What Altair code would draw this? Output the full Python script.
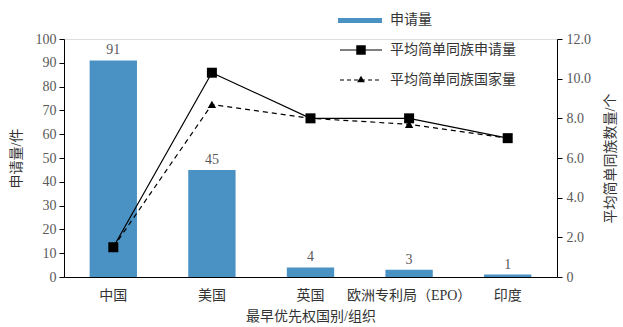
import altair as alt
import pandas as pd

countries = ["中国", "美国", "英国", "欧洲专利局（EPO）", "印度"]
applications = [91, 45, 4, 3, 1]
avg_family_apps = [1.5, 10.3, 8.0, 8.0, 7.0]
avg_family_countries = [1.5, 8.7, 8.0, 7.7, 7.0]
legend_labels = ["申请量", "平均简单同族申请量", "平均简单同族国家量"]
left_ticks = list(range(0, 101, 10))
right_ticks = [0, 2, 4, 6, 8, 10, 12]

FONT = "Liberation Serif, Noto Sans CJK SC"
BAR = "#4a91c4"
GRAY = "#595959"
FS = 14

df = pd.DataFrame({
    "country": countries,
    "apps": applications,
    "fam_apps": avg_family_apps,
    "fam_countries": avg_family_countries,
})

xaxis = alt.Axis(labelAngle=0, ticks=False, domainColor="black",
                 labelColor="#333333", labelFont=FONT, labelFontSize=FS,
                 labelPadding=11, labelOverlap=False,
                 titleFont=FONT, titleFontSize=FS,
                 titleFontWeight="normal", titleColor="#333333",
                 titlePadding=7)
xenc = alt.X("country:N", sort=countries, title="最早优先权国别/组织",
             scale=alt.Scale(paddingInner=0.52, paddingOuter=0.26), axis=xaxis)

laxis = alt.Axis(values=left_ticks, tickCount=11, grid=False, domainColor="black",
                 tickColor="black", tickSize=5, labelColor=GRAY,
                 labelFont=FONT, labelFontSize=FS, labelPadding=3,
                 labelOverlap=False, labelFlush=False,
                 titleFont=FONT, titleFontSize=FS, titleFontWeight="normal",
                 titleColor="#333333", titlePadding=12)
raxis = alt.Axis(orient="right", values=right_ticks, tickCount=7, grid=False,
                 domainColor="black", tickColor="black", tickSize=5,
                 labelColor=GRAY, labelFont=FONT, labelFontSize=FS,
                 labelPadding=4, labelOverlap=False, labelFlush=False,
                 labelExpr="datum.value == 0 ? '0' : format(datum.value, '.1f')",
                 titleFont=FONT, titleFontSize=FS,
                 titleFontWeight="normal", titleColor="#333333",
                 titleAngle=270, titlePadding=27)

base = alt.Chart(df)
lscale = alt.Scale(domain=[0, 100], nice=False)
rscale = alt.Scale(domain=[0, 12], nice=False)

bars = base.mark_bar(color=BAR).encode(
    x=xenc,
    y=alt.Y("apps:Q", title="申请量/件", scale=lscale, axis=laxis),
)
bar_text = base.mark_text(dy=-10, font=FONT, fontSize=FS, color=GRAY).encode(
    x=alt.X("country:N", sort=countries),
    y=alt.Y("apps:Q", title="申请量/件", scale=lscale, axis=laxis),
    text=alt.Text("apps:Q"),
)

one = alt.Data(values=[{"a": 0}])
leg_swatch = alt.Chart(one).mark_rect(color=BAR, clip=False).encode(
    x=alt.value(274), x2=alt.value(318), y=alt.value(-21), y2=alt.value(-16))
leg_rule1 = alt.Chart(one).mark_rule(color="black", strokeWidth=1.2).encode(
    x=alt.value(276), x2=alt.value(318), y=alt.value(11))
leg_pt1 = alt.Chart(one).mark_point(shape="square", filled=True, color="black",
                                    size=90, opacity=1).encode(
    x=alt.value(297), y=alt.value(11))
leg_rule2 = alt.Chart(one).mark_rule(color="black", strokeWidth=1.2,
                                     strokeDash=[4, 3]).encode(
    x=alt.value(276), x2=alt.value(318), y=alt.value(41))
leg_pt2 = alt.Chart(one).mark_point(shape="triangle-up", filled=True, color="black",
                                    size=60, opacity=1).encode(
    x=alt.value(297), y=alt.value(40))
leg_texts = [
    alt.Chart(one).mark_text(align="left", baseline="middle", font=FONT,
                             fontSize=FS, color="#333333").encode(
        x=alt.value(326), y=alt.value(yv), text=alt.value(lbl))
    for lbl, yv in zip(legend_labels, [-19, 11, 41])
]

left_layer = alt.layer(bars, bar_text, leg_swatch, leg_rule1, leg_pt1,
                       leg_rule2, leg_pt2, *leg_texts)

RT = "平均简单同族数量/个"
xline = alt.X("country:N", sort=countries)

line1 = base.mark_line(color="black", strokeWidth=1.2).encode(
    x=xline, y=alt.Y("fam_apps:Q", title=RT, scale=rscale, axis=raxis))
pts1 = base.mark_point(shape="square", filled=True, color="black", size=100,
                       opacity=1).encode(
    x=xline, y=alt.Y("fam_apps:Q", title=RT, scale=rscale, axis=raxis))
line2 = base.mark_line(color="black", strokeWidth=1.2, strokeDash=[5, 4]).encode(
    x=xline, y=alt.Y("fam_countries:Q", title=RT, scale=rscale, axis=raxis))
pts2 = base.mark_point(shape="triangle-up", filled=True, color="black", size=70,
                       opacity=1).encode(
    x=xline, y=alt.Y("fam_countries:Q", title=RT, scale=rscale, axis=raxis))

right_layer = alt.layer(line2, pts2, line1, pts1)

chart = alt.layer(left_layer, right_layer).resolve_scale(y="independent").properties(
    width=493, height=238,
    autosize=alt.AutoSizeParams(type="none"),
    padding={"left": 64, "top": 39, "right": 66, "bottom": 50},
).configure_view(stroke=None).configure(background="white")

chart.save("out.html", embed_options={"renderer": "svg", "actions": False})
